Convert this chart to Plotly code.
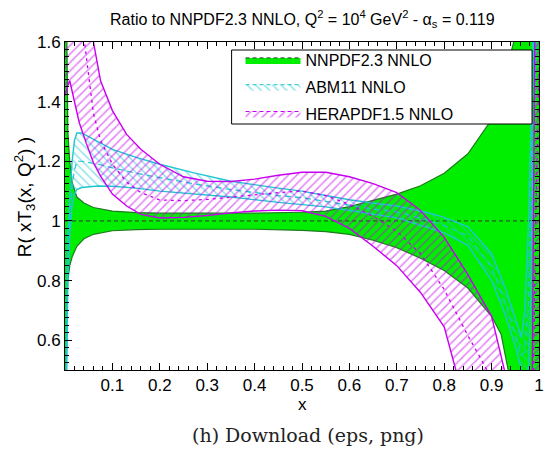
import plotly.graph_objects as go

# ---------------- data ----------------
nn_x = [0.0, 0.002, 0.004, 0.006, 0.01, 0.015, 0.025, 0.04, 0.06, 0.1, 0.15, 0.2, 0.3, 0.4,
        0.5, 0.55, 0.6, 0.65, 0.7, 0.75, 0.8, 0.85, 0.9, 0.92, 0.935, 0.95, 0.97, 1.0]
nn_up = [3.0, 2.0, 1.6, 1.3, 1.2, 1.13, 1.08, 1.06, 1.045, 1.033, 1.028, 1.026, 1.025, 1.026,
         1.029, 1.033, 1.048, 1.068, 1.09, 1.118, 1.16, 1.225, 1.34, 1.44, 1.53, 1.62, 2.0, 2.5]
nn_lo = [0.0, 0.45, 0.72, 0.8, 0.85, 0.879, 0.915, 0.94, 0.955, 0.967, 0.971, 0.972, 0.972, 0.972,
         0.968, 0.964, 0.955, 0.935, 0.91, 0.875, 0.834, 0.775, 0.68, 0.62, 0.5, 0.3, 0.1, 0.0]
nn_c = [1.0] * len(nn_x)

ab_x = [0.0, 0.003, 0.006, 0.01, 0.015, 0.02, 0.025, 0.035, 0.07, 0.1, 0.15, 0.2, 0.27, 0.35,
        0.45, 0.5, 0.55, 0.6, 0.65, 0.7, 0.76, 0.8, 0.85, 0.9, 0.93, 0.95, 0.963, 0.97, 0.977,
        0.982, 0.986, 0.99, 1.0]
ab_up = [0.2, 0.7, 0.95, 1.08, 1.2, 1.27, 1.295, 1.295, 1.265, 1.24, 1.213, 1.19, 1.162, 1.133,
         1.11, 1.1, 1.085, 1.071, 1.06, 1.05, 1.03, 1.012, 0.98, 0.89, 0.77, 0.67, 0.61, 0.7, 0.95,
         1.25, 1.6, 2.0, 2.5]
ab_lo = [0.0, 0.45, 0.8, 0.95, 1.05, 1.09, 1.105, 1.112, 1.117, 1.116, 1.11, 1.1, 1.09, 1.08,
         1.062, 1.055, 1.047, 1.035, 1.022, 1.01, 0.98, 0.96, 0.918, 0.8, 0.68, 0.58, 0.5, 0.42,
         0.45, 0.7, 1.1, 1.5, 2.0]
ab_c = [0.1, 0.55, 0.87, 1.0, 1.12, 1.17, 1.2, 1.2, 1.19, 1.178, 1.16, 1.145, 1.125, 1.105,
        1.085, 1.078, 1.065, 1.052, 1.04, 1.03, 1.005, 0.985, 0.95, 0.845, 0.72, 0.62, 0.55, 0.56,
        0.7, 0.98, 1.35, 1.75, 2.2]

hp_x = [0.0, 0.005, 0.01, 0.02, 0.03, 0.045, 0.06, 0.075, 0.1, 0.13, 0.16, 0.2, 0.25, 0.3,
        0.35, 0.4, 0.45, 0.5, 0.55, 0.6, 0.65, 0.7, 0.75, 0.8, 0.85, 0.88, 0.9, 0.93, 0.95,
        0.97, 0.985, 0.993, 1.0]
hp_up = [1.9, 2.0, 2.1, 2.1, 2.0, 1.8, 1.6, 1.47, 1.37, 1.29, 1.24, 1.19, 1.148, 1.133,
         1.132, 1.14, 1.153, 1.163, 1.163, 1.148, 1.125, 1.095, 1.035, 0.945, 0.82, 0.735, 0.68,
         0.48, 0.3, 0.2, 0.3, 2.0, 3.0]
hp_lo = [1.42, 1.45, 1.47, 1.4, 1.33, 1.26, 1.195, 1.15, 1.09, 1.05, 1.022, 1.01, 1.012, 1.018,
         1.027, 1.033, 1.036, 1.034, 1.015, 0.975, 0.915, 0.85, 0.76, 0.645, 0.35, 0.25, 0.2,
         0.12, 0.1, 0.05, 0.0, 0.0, 0.0]
hp_c = [1.9, 1.9, 1.9, 1.85, 1.75, 1.55, 1.36, 1.27, 1.19, 1.13, 1.095, 1.07, 1.068, 1.072,
        1.08, 1.088, 1.095, 1.10, 1.085, 1.055, 1.015, 0.965, 0.89, 0.77, 0.615, 0.53, 0.47,
        0.35, 0.2, 0.12, 0.15, 1.0, 1.5]

series_names = ["NNPDF2.3 NNLO", "ABM11 NNLO", "HERAPDF1.5 NNLO"]
x_tickvals = [0.1, 0.2, 0.3, 0.4, 0.5, 0.6, 0.7, 0.8, 0.9, 1.0]
x_ticktext = ["0.1", "0.2", "0.3", "0.4", "0.5", "0.6", "0.7", "0.8", "0.9", "1"]
y_tickvals = [0.6, 0.8, 1.0, 1.2, 1.4, 1.6]
y_ticktext = ["0.6", "0.8", "1", "1.2", "1.4", "1.6"]

GREEN = "#00ef00"
GREEN_EDGE = "#1f7a1f"
CYAN = "#1fc6d2"
MAGENTA = "#c800f0"

# page geometry (the browser body adds an 8px margin around the figure)
W, H = 548, 442
ML, MR, MT, MB = 57, 13, 34, 80
PX0, PX1, PY0, PY1 = 65, 543, 42, 370   # plot area in page pixels


def px(xp):
    return (xp - PX0) / (PX1 - PX0)


def py(yp):
    return (PY1 - yp) / (PY1 - PY0)


fig = go.Figure()


def band(x, up, lo, fillcolor=None, pattern=None):
    kw = dict(x=list(x) + list(x)[::-1], y=list(up) + list(lo)[::-1], mode="lines",
              fill="toself", line=dict(width=0), showlegend=False, hoverinfo="skip")
    if pattern is not None:
        kw["fillcolor"] = "rgba(0,0,0,0)"
        kw["fillpattern"] = pattern
    else:
        kw["fillcolor"] = fillcolor
    fig.add_trace(go.Scatter(**kw))


def edge(x, y, color, width=1.3, dash="solid"):
    fig.add_trace(go.Scatter(x=x, y=y, mode="lines", line=dict(color=color, width=width, dash=dash),
                             showlegend=False, hoverinfo="skip"))


CY_PAT = dict(shape="\\", fgcolor=CYAN, bgcolor="rgba(0,0,0,0)", size=6, solidity=0.25)
MG_PAT = dict(shape="/", fgcolor=MAGENTA, bgcolor="rgba(0,0,0,0)", size=6, solidity=0.25)

# NNPDF
band(nn_x, nn_up, nn_lo, fillcolor=GREEN)
edge(nn_x, nn_up, GREEN_EDGE, 1.2)
edge(nn_x, nn_lo, GREEN_EDGE, 1.2)
edge(nn_x, nn_c, "#333333", 1.0, "4px,3px")

# ABM11
band(ab_x, ab_up, ab_lo, pattern=CY_PAT)
edge(ab_x, ab_up, CYAN, 1.4)
edge(ab_x, ab_lo, CYAN, 1.4)
edge(ab_x, ab_c, CYAN, 1.2, "6px,4px")

# HERAPDF
band(hp_x, hp_up, hp_lo, pattern=MG_PAT)
edge(hp_x, hp_up, MAGENTA, 1.4)
edge(hp_x, hp_lo, MAGENTA, 1.4)
edge(hp_x, hp_c, MAGENTA, 1.3, "3px,4px")

# legend entries
fig.add_trace(go.Scatter(x=[None], y=[None], mode="lines", fill="toself", fillcolor=GREEN,
                         line=dict(color="#333333", width=1, dash="4px,3px"), name=series_names[0],
                         legendgroup="g1"))
fig.add_trace(go.Scatter(x=[None], y=[None], mode="lines", fill="toself", fillcolor="rgba(0,0,0,0)",
                         fillpattern=CY_PAT, line=dict(color=CYAN, width=1, dash="4px,3px"),
                         name=series_names[1], legendgroup="g2"))
fig.add_trace(go.Scatter(x=[None], y=[None], mode="lines", fill="toself", fillcolor="rgba(0,0,0,0)",
                         fillpattern=MG_PAT, line=dict(color=MAGENTA, width=1, dash="4px,3px"),
                         name=series_names[2], legendgroup="g3"))

FONT = "Liberation Sans, Arial, Helvetica, sans-serif"

fig.update_layout(
    width=W, height=H,
    margin=dict(l=ML, r=MR, t=MT, b=MB),
    paper_bgcolor="white", plot_bgcolor="white",
    font=dict(family=FONT, size=17, color="black"),
    showlegend=True,
    legend=dict(x=px(242), y=py(43), xanchor="left", yanchor="top", bgcolor="rgba(0,0,0,0)",
                borderwidth=0, font=dict(size=16, family=FONT), itemwidth=55,
                tracegroupgap=3, traceorder="grouped"),
    shapes=[dict(type="rect", xref="paper", yref="paper", x0=px(233), x1=px(536), y0=py(124),
                 y1=py(50), line=dict(color="black", width=1), fillcolor="white", layer="above")],
    xaxis=dict(range=[0, 1], showline=True, linecolor="black", linewidth=1, mirror="ticks",
               ticks="inside", ticklen=7, tickcolor="black", tickvals=x_tickvals, ticktext=x_ticktext,
               showgrid=False, zeroline=False,
               minor=dict(dtick=0.02, ticks="inside", ticklen=4, tickcolor="black", showgrid=False)),
    yaxis=dict(range=[0.5, 1.6], showline=True, linecolor="black", linewidth=1, mirror="ticks",
               ticks="inside", ticklen=7, tickcolor="black", tickvals=y_tickvals, ticktext=y_ticktext,
               showgrid=False, zeroline=False,
               minor=dict(dtick=0.025, ticks="inside", ticklen=4, tickcolor="black", showgrid=False)),
    annotations=[
        dict(text="Ratio to NNPDF2.3 NNLO, Q<sup>2</sup> = 10<sup>4</sup> GeV<sup>2</sup> - α<sub>s</sub> = 0.119",
             xref="paper", yref="paper", x=0.5, y=py(19), xanchor="center", yanchor="middle",
             showarrow=False, font=dict(size=16, family=FONT)),
        dict(text="R( xT<sub>3</sub>(x, Q<sup>2</sup>) )", xref="paper", yref="paper",
             x=px(24), y=py(197), xanchor="center", yanchor="middle", textangle=-90,
             showarrow=False, font=dict(size=19, family=FONT)),
        dict(text="x", xref="paper", yref="paper", x=px(305), y=py(404),
             xanchor="center", yanchor="middle", showarrow=False, font=dict(size=17, family=FONT)),
        dict(text="(h) Download (eps, png)", xref="paper", yref="paper", x=px(310),
             y=py(435), xanchor="center", yanchor="middle", showarrow=False,
             font=dict(size=19, family="DejaVu Serif, Liberation Serif, serif", color="#222222")),
    ],
)

fig.write_html("out.html")
